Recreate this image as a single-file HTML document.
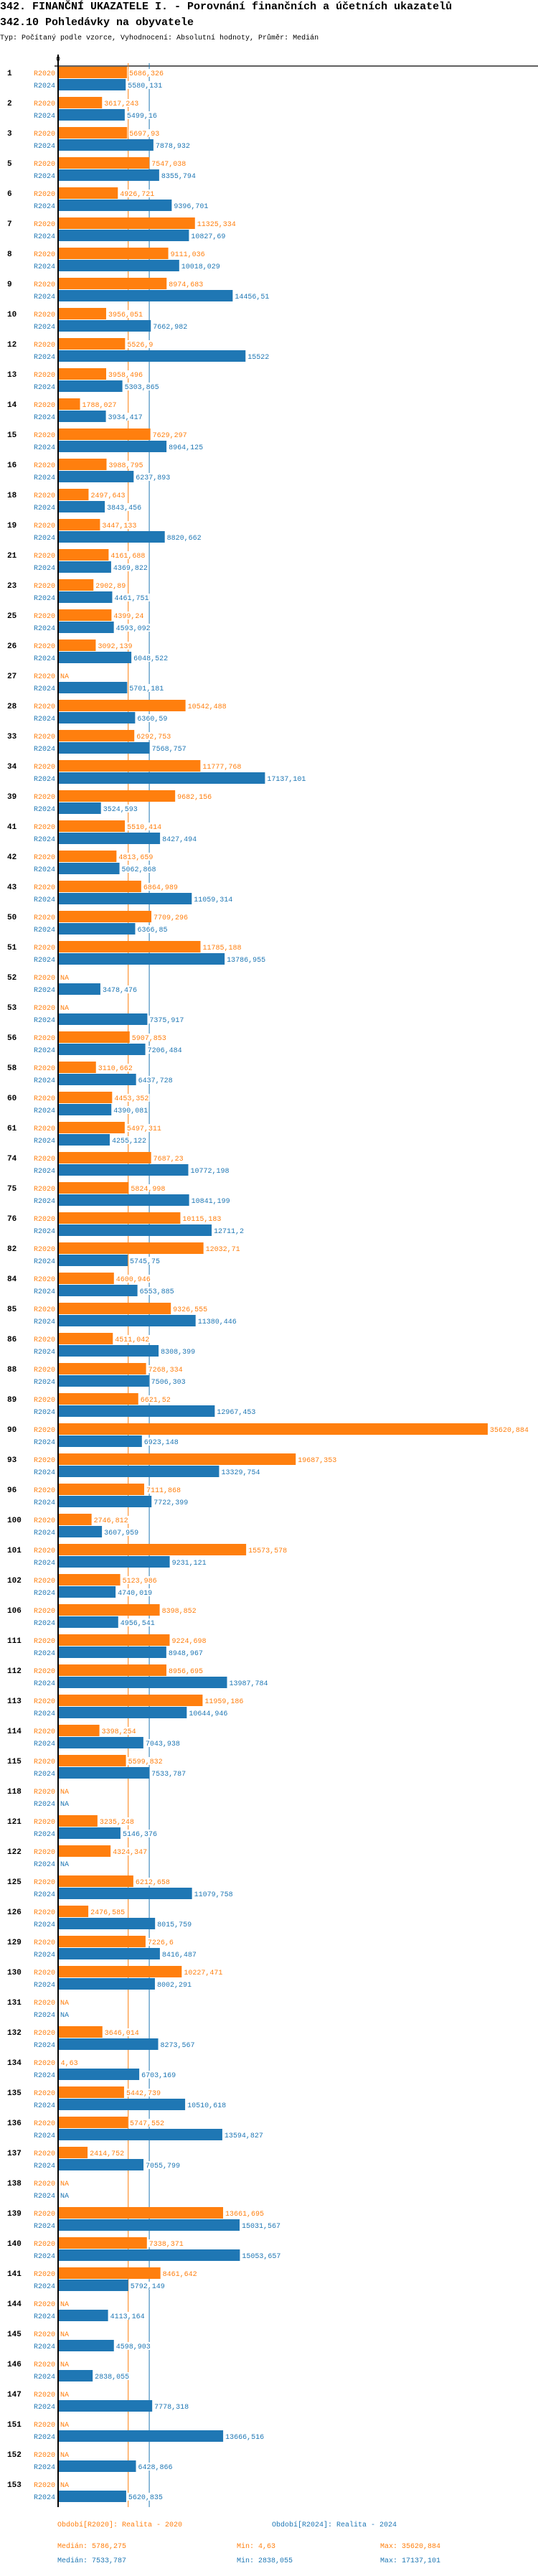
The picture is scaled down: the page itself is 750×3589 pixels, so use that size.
<!DOCTYPE html>
<html><head><meta charset="utf-8">
<style>
html,body{margin:0;padding:0;background:#fff;}
body{width:750px;height:3584px;overflow:hidden;position:relative;font-family:"Liberation Mono",monospace;}
svg text{font-family:"Liberation Mono",monospace;}
</style></head>
<body>
<svg id="chart" width="750" height="3584" xmlns="http://www.w3.org/2000/svg">
<text x="0" y="13" font-size="15" font-weight="bold" fill="#000">342. FINANČNÍ UKAZATELE I. - Porovnání finančních a účetních ukazatelů</text>
<text x="0" y="35" font-size="15" font-weight="bold" fill="#000">342.10 Pohledávky na obyvatele</text>
<text x="0" y="55" font-size="10" fill="#000">Typ: Počítaný podle vzorce, Vyhodnocení: Absolutní hodnoty, Průměr: Medián</text>
<text x="81" y="85" font-size="10" text-anchor="middle" fill="#000">0</text>
<g id="lines"></g>
<g id="bars"></g>
<text x="80" y="3520" font-size="10" fill="#ff7f0e">Období[R2020]: Realita - 2020</text>
<text x="379" y="3520" font-size="10" fill="#1f77b4">Období[R2024]: Realita - 2024</text>
<text x="80" y="3550" font-size="10" fill="#ff7f0e">Medián: 5786,275</text>
<text x="330" y="3550" font-size="10" fill="#ff7f0e">Min: 4,63</text>
<text x="530" y="3550" font-size="10" fill="#ff7f0e">Max: 35620,884</text>
<text x="80" y="3570" font-size="10" fill="#1f77b4">Medián: 7533,787</text>
<text x="330" y="3570" font-size="10" fill="#1f77b4">Min: 2838,055</text>
<text x="530" y="3570" font-size="10" fill="#1f77b4">Max: 17137,101</text>
</svg>
<script>
const categories = [1,2,3,5,6,7,8,9,10,12,13,14,15,16,18,19,21,23,25,26,27,28,33,34,39,41,42,43,50,51,52,53,56,58,60,61,74,75,76,82,84,85,86,88,89,90,93,96,100,101,102,106,111,112,113,114,115,118,121,122,125,126,129,130,131,132,134,135,136,137,138,139,140,141,144,145,146,147,151,152,153];
const r2020 = [5686.326,3617.243,5697.93,7547.038,4926.721,11325.334,9111.036,8974.683,3956.051,5526.9,3958.496,1788.027,7629.297,3988.795,2497.643,3447.133,4161.688,2902.89,4399.24,3092.139,null,10542.488,6292.753,11777.768,9682.156,5510.414,4813.659,6864.989,7709.296,11785.188,null,null,5907.853,3110.662,4453.352,5497.311,7687.23,5824.998,10115.183,12032.71,4600.946,9326.555,4511.042,7268.334,6621.52,35620.884,19687.353,7111.868,2746.812,15573.578,5123.986,8398.852,9224.698,8956.695,11959.186,3398.254,5599.832,null,3235.248,4324.347,6212.658,2476.585,7226.6,10227.471,null,3646.014,4.63,5442.739,5747.552,2414.752,null,13661.695,7338.371,8461.642,null,null,null,null,null,null,null];
const r2024 = [5580.131,5499.16,7878.932,8355.794,9396.701,10827.69,10018.029,14456.51,7662.982,15522,5303.865,3934.417,8964.125,6237.893,3843.456,8820.662,4369.822,4461.751,4593.092,6048.522,5701.181,6360.59,7568.757,17137.101,3524.593,8427.494,5062.868,11059.314,6366.85,13786.955,3478.476,7375.917,7206.484,6437.728,4390.081,4255.122,10772.198,10841.199,12711.2,5745.75,6553.885,11380.446,8308.399,7506.303,12967.453,6923.148,13329.754,7722.399,3607.959,9231.121,4740.019,4956.541,8948.967,13987.784,10644.946,7043.938,7533.787,null,5146.376,null,11079.758,8015.759,8416.487,8002.291,null,8273.567,6703.169,10510.618,13594.827,7055.799,null,15031.567,15053.657,5792.149,4113.164,4598.903,2838.055,7778.318,13666.516,6428.866,5620.835];
const medians = [5786.275, 7533.787];

const X0 = 81.5, SCALE = 0.0168;
function xScale(v){ return X0 + v*SCALE; }
function yGroup(i){ return 93 + 42*i; }
const NS = "http://www.w3.org/2000/svg";
const colors = ["#ff7f0e","#1f77b4"];
const linesG = document.getElementById('lines');
const barsG = document.getElementById('bars');
function mk(tag, attrs, parent){
  const e = document.createElementNS(NS, tag);
  for (const k in attrs) e.setAttribute(k, attrs[k]);
  parent.appendChild(e); return e;
}
function fmt(v){ return String(v).replace('.', ','); }

// axes
const xAxis = mk('line',{x1:76,y1:92,x2:750,y2:92,stroke:'#000','stroke-width':1.2},linesG);


const endY = yGroup(categories.length-1) + 40;
medians.forEach((m, k) => {
  const l = mk('line',{x1:xScale(m),y1:88,x2:xScale(m),y2:endY,stroke:colors[k],'stroke-width':1},linesG);
  
  
});

categories.forEach((c, i) => {
  const top = yGroup(i);
  const g = mk('g',{},barsG);
  
  
  const lab = mk('text',{x:10,y:top+12,'font-size':11,'font-weight':'bold',fill:'#000'},g);
  lab.textContent = c;
  
  
  [r2020[i], r2024[i]].forEach((v, k) => {
    const by = top + (k===0 ? 0 : 17);
    const sl = mk('text',{x:77,y:by+12,'font-size':10,'text-anchor':'end',fill:colors[k]},g);
    sl.textContent = k===0 ? 'R2020' : 'R2024';
    
    
    let tx = 84;
    if (v !== null) {
      const w = xScale(v) - X0;
      const r = mk('rect',{x:X0,y:by,width:Math.max(w,0),height:16,fill:colors[k]},g);
      
      
      tx = xScale(v) + 3;
    }
    const txt = v === null ? 'NA' : fmt(v);
    const bg = mk('rect',{x:tx-1,y:by+3,width:txt.length*6+2,height:11,fill:'#fff'},g);
    
    
    const vl = mk('text',{x:tx,y:by+12,'font-size':10,fill:colors[k]},g);
    vl.textContent = txt;
    
    
  });
});
const yAxis = mk('line',{x1:81,y1:76,x2:81,y2:endY,stroke:'#000','stroke-width':2},barsG);


</script>
</body></html>
